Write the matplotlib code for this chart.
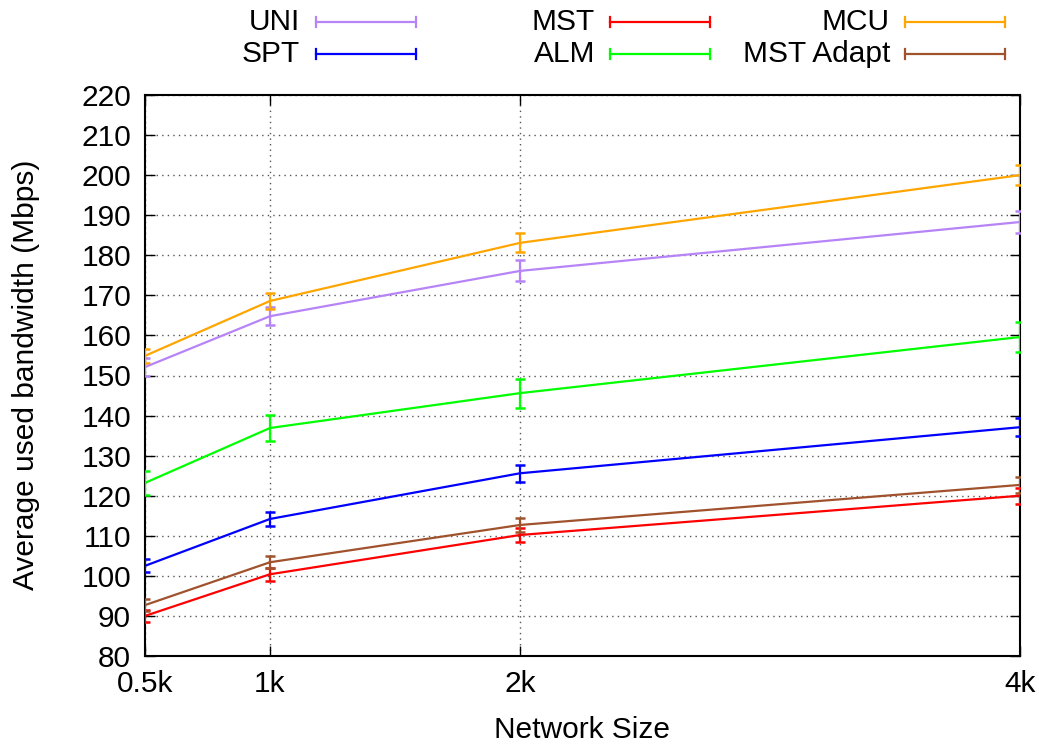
import numpy as np
import matplotlib.pyplot as plt
from matplotlib.lines import Line2D

plt.rcParams['font.family'] = ['Liberation Sans', 'DejaVu Sans']

# network sizes (thousands of nodes)
sizes = [0.5, 1, 2, 4]
size_labels = ['0.5k', '1k', '2k', '4k']

# average used bandwidth (Mbps) and error bar half-widths
uni = [152.1, 164.8, 176.1, 188.3]
uni_err = [2.3, 2.3, 2.6, 2.7]
spt = [102.5, 114.2, 125.6, 137.1]
spt_err = [1.6, 1.7, 2.1, 2.2]
mst = [90.0, 100.4, 110.2, 120.0]
mst_err = [1.5, 1.6, 1.8, 2.0]
alm = [123.2, 136.9, 145.6, 159.6]
alm_err = [3.0, 3.3, 3.6, 3.8]
mcu = [154.9, 168.6, 183.1, 200.0]
mcu_err = [1.8, 2.0, 2.4, 2.5]
mst_adapt = [92.7, 103.4, 112.7, 122.7]
mst_adapt_err = [1.4, 1.5, 1.7, 2.0]

series = [
    ('UNI', uni, uni_err, '#b784f7'),
    ('SPT', spt, spt_err, '#0000ff'),
    ('MST', mst, mst_err, '#ff0000'),
    ('ALM', alm, alm_err, '#00ff00'),
    ('MCU', mcu, mcu_err, '#ffa500'),
    ('MST Adapt', mst_adapt, mst_adapt_err, '#a0522d'),
]

FS = 21.5
W, H = 1039, 749
fig = plt.figure(figsize=(W / 100, H / 100), dpi=100)
ax = fig.add_axes([145 / W, 1 - 656 / H, (1020 - 145) / W, (656 - 95) / H])

for name, vals, err, col in series:
    ax.errorbar(sizes, vals, yerr=err, color=col, lw=1.6, elinewidth=1.6,
                capsize=3.5, capthick=1.8, zorder=3)

ax.set_xlim(0.5, 4)
ax.set_ylim(80, 220)
ax.set_xticks(sizes)
ax.set_xticklabels(size_labels)
ax.set_yticks(np.arange(80, 221, 10))
ax.tick_params(direction='in', length=7, width=1, labelsize=FS, pad=10,
               top=True, right=True)
ax.grid(True, color='#555555', linestyle=(0, (1, 3)), lw=1)
for s in ax.spines.values():
    s.set_linewidth(1.5)

fig.text(582 / W, 1 - 730 / H, 'Network Size', fontsize=FS,
         ha='center', va='center')
fig.text(26 / W, 1 - 375 / H, 'Average used bandwidth (Mbps)', fontsize=FS,
         ha='center', va='center', rotation=90)

# gnuplot-style key above the plot
key = [('UNI', 300, 316, 22), ('SPT', 300, 316, 54),
       ('MST', 595, 610, 22), ('ALM', 595, 610, 54),
       ('MCU', 890, 905, 22), ('MST Adapt', 890, 905, 54)]
colors = {name: col for name, _, _, col in series}
for name, tx, lx, y in key:
    col = colors[name]
    fy = 1 - y / H
    fig.text(tx / W, fy, name, fontsize=FS, ha='right', va='center')
    x0, x1 = lx / W, (lx + 100) / W
    fig.add_artist(Line2D([x0, x1], [fy, fy], color=col, lw=1.6,
                          transform=fig.transFigure))
    for xc in (x0, x1):
        fig.add_artist(Line2D([xc, xc], [fy - 5 / H, fy + 5 / H], color=col,
                              lw=1.6, transform=fig.transFigure))

fig.savefig('out.png', dpi=100)
